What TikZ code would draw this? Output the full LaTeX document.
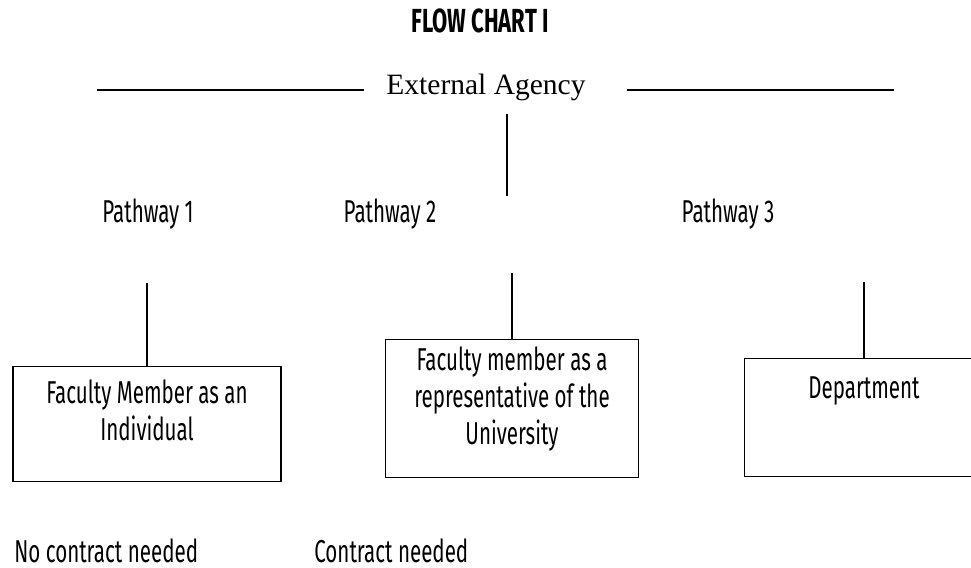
\documentclass[tikz,border=0pt]{standalone}
\usepackage{fontspec}
\usetikzlibrary{positioning}
\newfontfamily\agency[FakeStretch=0.65]{Fira Sans}
\newfontfamily\agencybold[FakeStretch=0.66]{Fira Sans}
\newfontfamily\timesfont{Liberation Serif}

\begin{document}
\begin{tikzpicture}[x=0.02cm, y=-0.02cm]
		\tikzstyle{Label} = [inner sep=0, font=\agency\fontsize{18}{21}\selectfont]
		\tikzstyle{Title} = [inner sep=0, font=\agencybold\bfseries\fontsize{19}{21}\selectfont]
		\tikzstyle{Agency} = [inner sep=0, font=\timesfont\fontsize{16.8}{20}\selectfont]
		\tikzstyle{Box} = [rectangle, draw=black, line width=0.8pt, inner sep=0, anchor=north, align=flush center, font=\agency\fontsize{18}{21}\selectfont]
		\tikzstyle{line} = [line width=0.8pt]
		
		\useasboundingbox (0,0) rectangle (971,568);
		\clip (0,0) rectangle (971,568);
		%\draw[step=50, gray, very thin] (0,0) grid (971,568);
		
		\node (title) [Title] at (480,21) {FLOW CHART I};
		\node (agency) [Agency, anchor=base] at (486,94) {External Agency};
		\coordinate (leftA) at (97,90);
		\coordinate (leftB) at (364,90);
		\coordinate (rightA) at (627,90);
		\coordinate (rightB) at (894,90);
		\coordinate (stemTop) at (507,114);
		\coordinate (stemBot) at (507,196);
		\draw [line] (leftA) -- (leftB);
		\draw [line] (rightA) -- (rightB);
		\draw [line] (stemTop) -- (stemBot);
		
		\node (path1) [Label, anchor=base] at (148,222) {Pathway 1};
		\node (path2) [Label, anchor=base] at (390,222) {Pathway 2};
		\node (path3) [Label, anchor=base] at (728,222) {Pathway 3};
		
		\node (indiv) [Box, text width=152.5pt, text height=21pt, text depth=44.2pt] at (147,366) {Faculty Member as an\\Individual};
		\node (univ) [Box, text width=144pt, text height=17.6pt, text depth=60.7pt] at (512,339) {Faculty member as a\\representative of the\\University};
		\node (dept) [Box, text width=136pt, text height=22.7pt, text depth=44.2pt] at (864,358) {Department};
		
		\coordinate (top1) at (147,283);
		\coordinate (top2) at (512,273);
		\coordinate (top3) at (864,282);
		\draw [line] (top1) -- (indiv.north);
		\draw [line] (top2) -- (univ.north);
		\draw [line] (top3) -- (dept.north);
		
		\node (nocontract) [Label, anchor=base west] at (14,562) {No contract needed};
		\node (contract) [Label, anchor=base west] at (314,562) {Contract needed};
\end{tikzpicture}
\end{document}
